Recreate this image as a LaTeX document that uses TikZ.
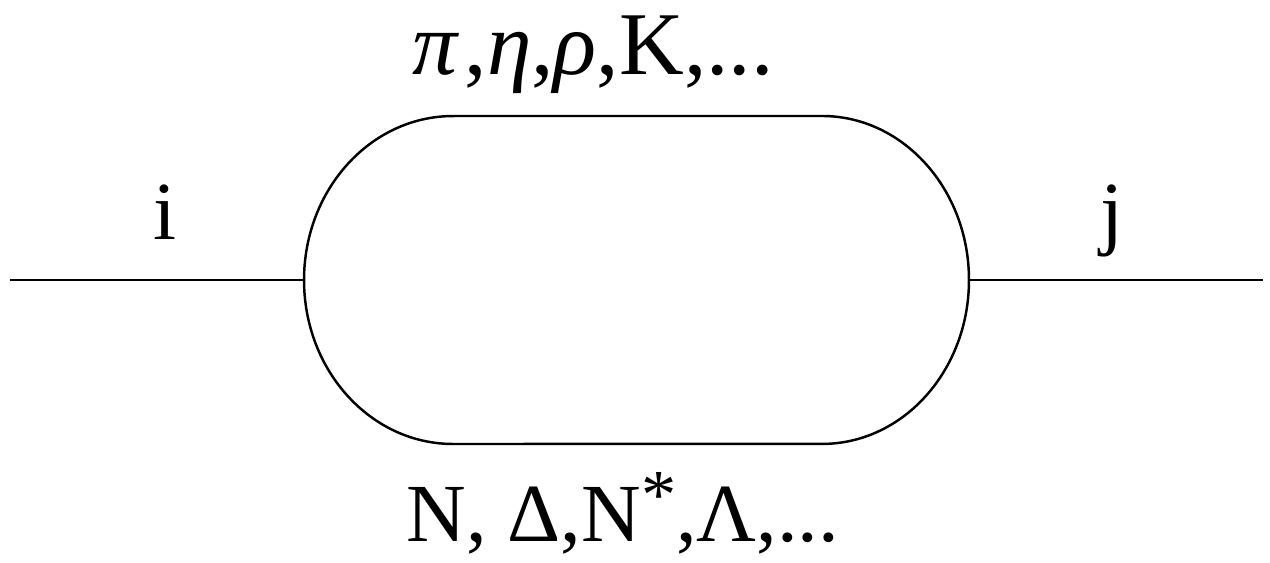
\documentclass[tikz,border=0pt]{standalone}
\usepackage{fontspec}
\setmainfont{Liberation Serif}
\usepackage{tikz}
\usetikzlibrary{positioning}

\begin{document}
\begin{tikzpicture}[
    x=0.02cm, y=0.02cm,
    lbl/.style={inner sep=0pt, anchor=base, font=\fontsize{47}{50}\selectfont},
    line/.style={draw, line width=1.4pt}
]
\useasboundingbox (0,0) rectangle (1270,563);
\coordinate (inL) at (10,283);
\coordinate (loopW) at (304,283);
\coordinate (loopE) at (969,283);
\coordinate (outR) at (1263,283);

% the loop
\path[line] (453,447) -- (822,447)
    arc[start angle=90, end angle=-90, x radius=2.94cm, y radius=3.28cm]
    -- (453,119)
    arc[start angle=-90, end angle=-270, x radius=2.98cm, y radius=3.28cm]
    -- cycle;

\draw[line] (inL) -- (loopW);
\draw[line] (loopE) -- (outR);

\node[lbl, font=\fontsize{51}{54}\selectfont] (mes) at (593,488) {\textit{π}\hspace{0.06em},\textit{η},\textit{ρ},K,...};
\node[lbl] (bar) at (623,21) {N, Δ,N\raisebox{0.28em}{\fontsize{40}{40}\selectfont*},Λ,...};
\node[lbl] (li) at (165,323) {i};
\node[lbl] (lj) at (1112,323) {j};
\end{tikzpicture}
\end{document}
